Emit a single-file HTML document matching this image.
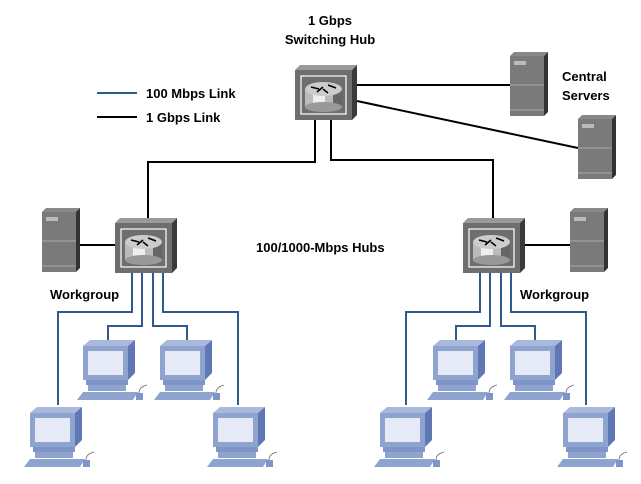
<!DOCTYPE html>
<html><head><meta charset="utf-8"><style>
html,body{margin:0;padding:0;background:#fff;}
svg{display:block;}
text{font-family:"Liberation Sans",sans-serif;font-weight:bold;font-size:13px;fill:#000;}
</style></head><body>
<svg width="641" height="484" viewBox="0 0 641 484" xmlns="http://www.w3.org/2000/svg">
<defs>
<g id="hub">
  <polygon points="0,5 5,0 62,0 57,5" fill="#9a9a9a"/>
  <polygon points="57,5 62,0 62,50 57,55" fill="#3a3a3a"/>
  <rect x="0" y="5" width="57" height="50" fill="#6e6e6e"/>
  <rect x="6" y="11" width="45" height="38" fill="none" stroke="#fff" stroke-width="1.2"/>
  <rect x="10" y="24" width="37" height="18" fill="#bbb"/>
  <rect x="18" y="24" width="12" height="18" fill="#eee"/>
  <rect x="38" y="24" width="9" height="18" fill="#666"/>
  <ellipse cx="28.5" cy="42" rx="18.5" ry="5" fill="#999"/>
  <ellipse cx="28.5" cy="24" rx="18.5" ry="7" fill="#ccc"/>
  <path d="M16 22 l8 2 M22 27 l6 -5 M33 20 l8 3 M28 24 l5 4" stroke="#000" stroke-width="1.5"/>
</g>
<g id="srv">
  <polygon points="0,4 4,0 38,0 34,4" fill="#888"/>
  <polygon points="34,4 38,0 38,60 34,64" fill="#333"/>
  <rect x="0" y="4" width="34" height="60" fill="#7a7a7a"/>
  <rect x="4" y="9" width="12" height="4" fill="#bbb"/>
  <line x1="0" y1="33" x2="34" y2="33" stroke="#aaa"/>
  <line x1="0" y1="58" x2="34" y2="58" stroke="#aaa"/>
</g>
<g id="pc">
  <polygon points="0,3 7,-3 52,-3 45,3" fill="#aab8dc"/>
  <rect x="0" y="3" width="45" height="34" fill="#8fa3cf"/>
  <rect x="5" y="8" width="35" height="24" fill="#e6e9f6"/>
  <polygon points="45,3 52,-3 52,30 45,37" fill="#5f78b5"/>
  <rect x="3" y="37" width="42" height="5" fill="#7f95c8"/>
  <rect x="5" y="42" width="38" height="6" fill="#8fa3cf"/>
  <polygon points="-6,57 0,49 55,49 50,57" fill="#8fa3cf"/>
  <rect x="53" y="50" width="7" height="7" fill="#7f95c8"/>
  <path d="M56 50 q0 -6 8 -8" stroke="#666" fill="none" stroke-width="0.8"/>
</g>
</defs>
<!-- black links -->
<g stroke="#000" stroke-width="2" fill="none">
  <line x1="97" y1="117" x2="137" y2="117"/>
  <line x1="357" y1="85" x2="510" y2="85"/>
  <line x1="357" y1="101" x2="578" y2="148"/>
  <polyline points="315,120 315,162 148,162 148,218"/>
  <polyline points="331,120 331,160 493,160 493,218"/>
  <line x1="80" y1="245" x2="115" y2="245"/>
  <line x1="523" y1="245" x2="570" y2="245"/>
</g>
<!-- blue links -->
<g stroke="#2f5a8c" stroke-width="2" fill="none">
  <line x1="97" y1="93" x2="137" y2="93"/>
  <polyline points="132,273 132,312 58,312 58,405"/>
  <polyline points="142,273 142,326 108,326 108,340"/>
  <polyline points="153,273 153,326 187,326 187,340"/>
  <polyline points="163,273 163,312 238,312 238,405"/>
  <polyline points="480,273 480,312 406,312 406,405"/>
  <polyline points="490,273 490,326 456,326 456,340"/>
  <polyline points="501,273 501,326 535,326 535,340"/>
  <polyline points="511,273 511,312 586,312 586,405"/>
</g>
<use href="#hub" x="295" y="65"/>
<use href="#hub" x="115" y="218"/>
<use href="#hub" x="463" y="218"/>
<use href="#srv" x="510" y="52"/>
<use href="#srv" x="578" y="115"/>
<use href="#srv" x="42" y="208"/>
<use href="#srv" x="570" y="208"/>
<use href="#pc" x="83" y="343"/>
<use href="#pc" x="160" y="343"/>
<use href="#pc" x="433" y="343"/>
<use href="#pc" x="510" y="343"/>
<use href="#pc" x="30" y="410"/>
<use href="#pc" x="213" y="410"/>
<use href="#pc" x="380" y="410"/>
<use href="#pc" x="563" y="410"/>
<text x="330" y="25" text-anchor="middle">1 Gbps</text>
<text x="330" y="44" text-anchor="middle">Switching Hub</text>
<text x="146" y="98">100 Mbps Link</text>
<text x="146" y="122">1 Gbps Link</text>
<text x="562" y="81">Central</text>
<text x="562" y="100">Servers</text>
<text x="256" y="252">100/1000-Mbps Hubs</text>
<text x="50" y="299">Workgroup</text>
<text x="520" y="299">Workgroup</text>
</svg>
</body></html>
